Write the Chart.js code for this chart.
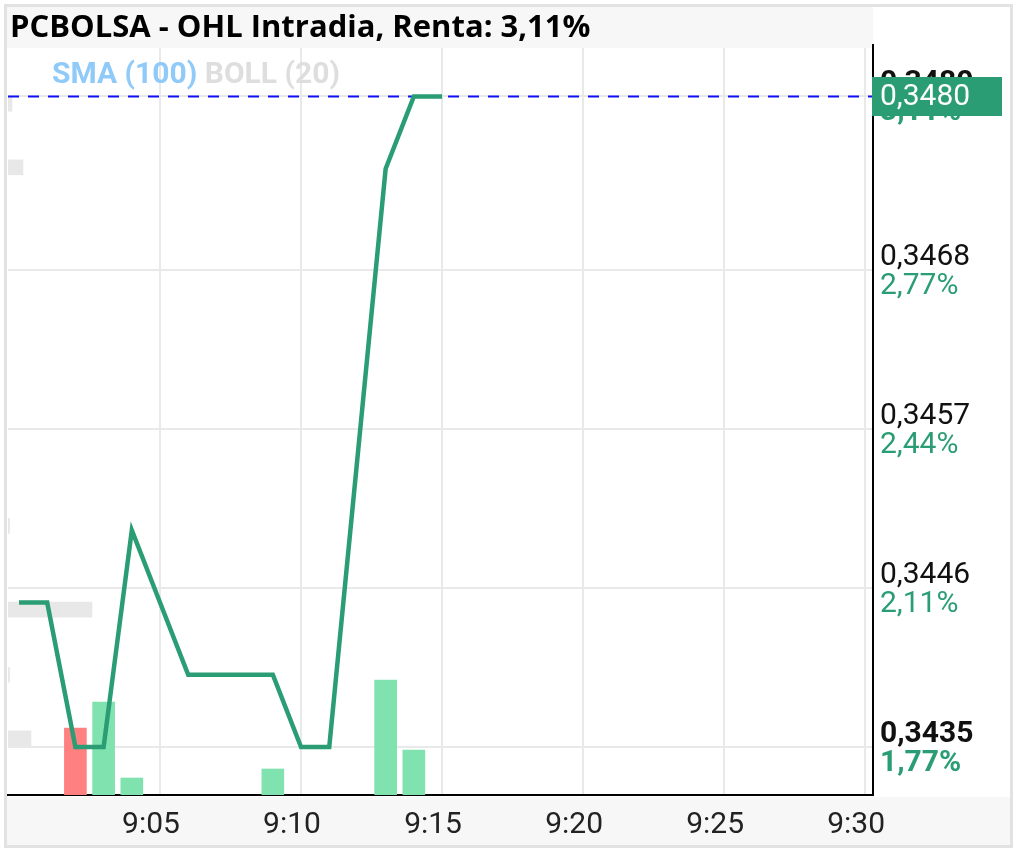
<!DOCTYPE html>
<html>
<head>
<meta charset="utf-8">
<script src="https://cdn.jsdelivr.net/npm/chart.js@4.4.1/dist/chart.umd.min.js"></script>
<style>
  html, body { margin:0; padding:0; background:#fff; }
  #wrap { position:relative; width:1017px; height:851px; overflow:hidden; background:#fff; }
  #frame { position:absolute; left:4px; top:4px; width:1003px; height:838px; border:3px solid #e2e2e2; }
  #titleBand { position:absolute; left:7px; top:7px; width:866px; height:41px; background:#f7f7f7; }
  #xBand { position:absolute; left:7px; top:797px; width:1003px; height:48px; background:#f7f7f7; }
  #title { position:absolute; left:10px; top:9.5px; font:bold 31px 'Open Sans'; line-height:31px; color:#000; white-space:nowrap; z-index:3; }
  #legend { position:absolute; left:52px; top:57.5px; font:bold 30px Roboto; line-height:30px; white-space:nowrap; z-index:3; }
  #legend .sma { color:#90caf9; }
  #legend .boll { color:#dedede; }
  canvas { position:absolute; left:0; top:0; z-index:2; }
</style>
</head>
<body>
<div id="wrap">
  <div id="frame"></div>
  <div id="titleBand"></div>
  <div id="xBand"></div>
  <div id="title">PCBOLSA - OHL Intradia, Renta: 3,11%</div>
  <div id="legend"><span class="sma">SMA (100)</span> <span class="boll">BOLL (20)</span></div>
  <canvas id="c" width="1017" height="851"></canvas>
</div>
<script>
// ---- data ----
const lineTimes  = ['9:00','9:01','9:02','9:03','9:04','9:06','9:09','9:10','9:11','9:13','9:14','9:15'];
const linePrices = [0.3445, 0.3445, 0.3435, 0.3435, 0.3450, 0.3440, 0.3440, 0.3435, 0.3435, 0.3475, 0.3480, 0.3480];

const volTimes   = ['9:02','9:03','9:04','9:09','9:13','9:14'];
const volValues  = [6700, 9300, 1700, 2600, 11500, 4500];

const profPrices  = [0.34795, 0.34751, 0.34503, 0.34445, 0.34400, 0.34356];
const profVolumes = [4, 15, 1.5, 84, 1.5, 23];

const xTickLabels = ['9:05','9:10','9:15','9:20','9:25','9:30'];
const yTickValues = [0.3435, 0.3446, 0.3457, 0.3468, 0.3480];
const yPriceLabels = ['0,3435','0,3446','0,3457','0,3468','0,3480'];
const yPctLabels   = ['1,77%','2,11%','2,44%','2,77%','3,11%'];

const lastPrice = linePrices[linePrices.length - 1];

// ---- helpers ----
const toMin = t => { const [h, m] = t.split(':').map(Number); return (h - 9) * 60 + m; };
const fmtPrice = v => v.toFixed(4).replace('.', ',');

const GREEN = '#2a9d74';
const X_MIN = -0.39, X_MAX = 30.28;
const Y_MIN = 0.343168, Y_MAX = 0.3483355;

const volColors = volTimes.map(t => {
  const i = lineTimes.indexOf(t);
  return (i > 0 && linePrices[i] < linePrices[i - 1]) ? '#ff8080' : '#80e2ae';
});

const labelPlugin = {
  id: 'axisLabels',
  afterDraw(chart) {
    const { ctx, scales: { x, y }, chartArea } = chart;
    ctx.save();
    // axis line extension above plot
    ctx.fillStyle = '#000';
    ctx.fillRect(chartArea.right - 1, chartArea.top - 4, 2, 4);
    // y labels
    yTickValues.forEach((v, i) => {
      const py = y.getPixelForValue(v);
      const bold = (i === 0 || i === yTickValues.length - 1);
      ctx.font = (bold ? 'bold ' : '') + '30px Roboto';
      ctx.textAlign = 'left';
      ctx.textBaseline = 'alphabetic';
      ctx.fillStyle = '#111';
      ctx.fillText(yPriceLabels[i], chartArea.right + 7, py - 5);
      ctx.fillStyle = GREEN;
      ctx.fillText(yPctLabels[i], chartArea.right + 7, py + 24);
    });
    // x labels
    ctx.font = '30px Roboto';
    ctx.fillStyle = '#222';
    ctx.textAlign = 'center';
    xTickLabels.forEach(lbl => {
      const px = x.getPixelForValue(toMin(lbl));
      ctx.fillText(lbl, px - 9, 833);
    });
    // last price tag
    const py = y.getPixelForValue(lastPrice);
    ctx.fillStyle = GREEN;
    ctx.fillRect(chartArea.right - 1, py - 19.5, 130, 39);
    ctx.fillStyle = '#fff';
    ctx.textAlign = 'left';
    ctx.textBaseline = 'middle';
    ctx.font = '30px Roboto';
    ctx.fillText(fmtPrice(lastPrice), chartArea.right + 7, py + 1);
    ctx.restore();
  }
};

new Chart(document.getElementById('c'), {
  type: 'line',
  data: {
    datasets: [
      {
        type: 'line',
        data: lineTimes.map((t, i) => ({ x: toMin(t), y: linePrices[i] })),
        borderColor: GREEN, borderWidth: 4.5, pointRadius: 0, tension: 0,
        xAxisID: 'x', yAxisID: 'y', order: 0
      },
      {
        type: 'line',
        data: [{ x: X_MIN, y: lastPrice }, { x: X_MAX, y: lastPrice }],
        borderColor: '#1010f5', borderWidth: 2, borderDash: [11, 9], pointRadius: 0,
        xAxisID: 'x', yAxisID: 'y', order: 1
      },
      {
        type: 'bar', grouped: false,
        data: volTimes.map((t, i) => ({ x: toMin(t), y: volValues[i] })),
        backgroundColor: volColors, barThickness: 22, maxBarThickness: 22,
        xAxisID: 'x', yAxisID: 'yVol', order: 2
      },
      {
        type: 'bar', indexAxis: 'y', grouped: false,
        data: profPrices.map((p, i) => ({ x: profVolumes[i], y: p })),
        backgroundColor: '#e8e8e8', barThickness: 15, maxBarThickness: 15,
        xAxisID: 'xProf', yAxisID: 'y', order: 3
      }
    ]
  },
  options: {
    responsive: false,
    animation: false,
    devicePixelRatio: 1,
    events: [],
    layout: { padding: { left: 8, top: 48, right: 144, bottom: 56 } },
    plugins: { legend: { display: false }, tooltip: { enabled: false } },
    scales: {
      x: {
        type: 'linear', position: 'bottom', min: X_MIN, max: X_MAX, offset: false,
        afterBuildTicks: s => { s.ticks = xTickLabels.map(l => ({ value: toMin(l) })); },
        ticks: { display: false },
        grid: { color: '#e9e9e9', lineWidth: 2, drawTicks: false, offset: false },
        border: { display: true, color: '#000', width: 2 }
      },
      y: {
        type: 'linear', position: 'right', min: Y_MIN, max: Y_MAX, offset: false,
        afterBuildTicks: s => { s.ticks = yTickValues.map(v => ({ value: v })); },
        ticks: { display: false },
        grid: { color: '#e9e9e9', lineWidth: 2, drawTicks: false, offset: false },
        border: { display: true, color: '#000', width: 2 }
      },
      yVol: { type: 'linear', display: false, min: 0, max: 74700, offset: false },
      xProf: { type: 'linear', axis: 'x', display: false, min: 0, max: 865, offset: false }
    }
  },
  plugins: [labelPlugin]
});
</script>
</body>
</html>
